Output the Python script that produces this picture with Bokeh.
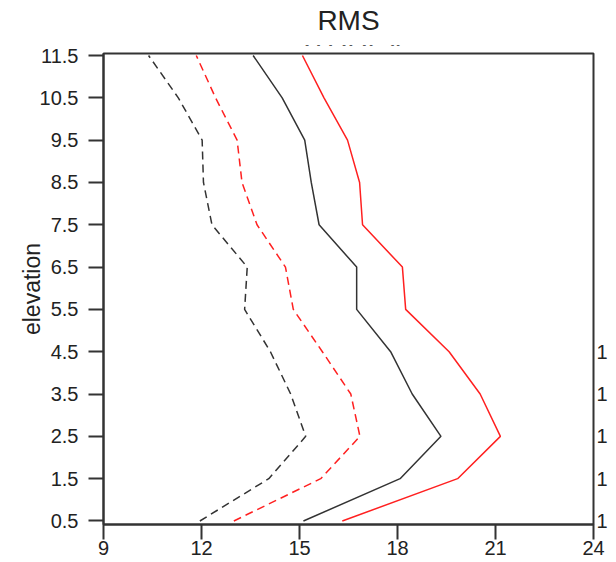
from bokeh.plotting import figure
from bokeh.models import Range1d, FixedTicker, LinearAxis, Label, Div
from bokeh.layouts import column
from bokeh.embed import file_html
from bokeh.resources import INLINE

# ---- data ----
levels = [0.5, 1.5, 2.5, 3.5, 4.5, 5.5, 6.5, 7.5, 8.5, 9.5, 10.5, 11.5]
black_dashed = [11.95, 14.06, 15.19, 14.73, 14.11, 13.32, 13.40, 12.32, 12.06, 12.02, 11.29, 10.38]
red_dashed = [12.99, 15.65, 16.85, 16.57, 15.70, 14.81, 14.57, 13.70, 13.24, 13.09, 12.43, 11.84]
black_solid = [15.12, 18.08, 19.33, 18.45, 17.79, 16.75, 16.75, 15.60, 15.36, 15.16, 14.47, 13.58]
red_solid = [16.31, 19.84, 21.15, 20.53, 19.58, 18.25, 18.15, 16.93, 16.84, 16.47, 15.75, 15.09]

x_ticks = [9, 12, 15, 18, 21, 24]
y_ticks = levels
right_ticks = [0.5, 1.5, 2.5, 3.5, 4.5]
right_labels = ["1", "1", "1", "1", "1"]

title_text = "RMS"
subtitle_text = "STDDEV"
y_label = "elevation"

FONT = "Liberation Sans"
AX = "#333333"
BLACK = "#333333"
RED = "#ff2020"
TXT = "#222222"
W = 616
LEFT = 103
RIGHT = 23
H_TITLE = 39
H_SUB = 6

# title strip
fa = figure(width=W, height=H_TITLE, output_backend="svg", toolbar_location=None,
            x_range=Range1d(0, 1), y_range=Range1d(0, H_TITLE),
            min_border_left=LEFT, min_border_right=RIGHT,
            min_border_top=0, min_border_bottom=0)
fa.axis.visible = False
fa.grid.visible = False
fa.outline_line_color = None
fa.add_layout(Label(x=0.5, y=H_TITLE - 20, text=title_text, text_align="center",
                    text_baseline="middle", text_font=FONT, text_font_size="28px",
                    text_color=TXT))

# second title: only the bottom of its letters shows (the rest is hidden)
sub_html = (
    f'<div style="position:relative;width:{W}px;height:{H_SUB}px;overflow:hidden;">'
    f'<span style="position:absolute;left:{LEFT}px;width:{W - LEFT - RIGHT}px;top:-16px;'
    f'text-align:center;font-family:\'{FONT}\';font-size:28px;line-height:28px;'
    f'color:{TXT};white-space:nowrap;">{subtitle_text}</span></div>'
)
fb = Div(text=sub_html, width=W, height=H_SUB, margin=0)

p = figure(width=W, height=562 - H_TITLE - H_SUB, output_backend="svg", toolbar_location=None,
           x_range=Range1d(9, 24), y_range=Range1d(0.417, 11.547),
           min_border_left=LEFT, min_border_right=RIGHT, min_border_top=8,
           min_border_bottom=38)
p.grid.visible = False
p.outline_line_color = AX
p.outline_line_width = 2

p.line(black_dashed, levels, line_color=BLACK, line_width=1.5, line_dash="8 5")
p.line(red_dashed, levels, line_color=RED, line_width=1.5, line_dash="8 5")
p.line(black_solid, levels, line_color=BLACK, line_width=1.5)
p.line(red_solid, levels, line_color=RED, line_width=1.5)

for ax in (p.xaxis[0], p.yaxis[0]):
    ax.axis_line_color = AX
    ax.axis_line_width = 2
    ax.major_tick_line_color = AX
    ax.major_tick_line_width = 2
    ax.major_tick_out = 15
    ax.major_tick_in = 0
    ax.minor_tick_line_color = None
    ax.major_label_text_font = FONT
    ax.major_label_text_font_size = "20px"
    ax.major_label_text_color = TXT

p.xaxis[0].ticker = FixedTicker(ticks=x_ticks)
p.xaxis[0].major_label_standoff = 1
p.yaxis[0].ticker = FixedTicker(ticks=y_ticks)
p.yaxis[0].major_label_standoff = 10
p.yaxis[0].axis_label = y_label
p.yaxis[0].axis_label_text_font = FONT
p.yaxis[0].axis_label_text_font_size = "23px"
p.yaxis[0].axis_label_text_font_style = "normal"
p.yaxis[0].axis_label_text_color = TXT
p.yaxis[0].axis_label_standoff = -8

ra = LinearAxis(ticker=FixedTicker(ticks=right_ticks),
                major_label_overrides={t: l for t, l in zip(right_ticks, right_labels)})
ra.axis_line_color = None
ra.major_tick_line_color = None
ra.minor_tick_line_color = None
ra.major_tick_out = 0
ra.major_tick_in = 0
ra.major_label_standoff = 3
ra.major_label_text_font = FONT
ra.major_label_text_font_size = "20px"
ra.major_label_text_color = TXT
p.add_layout(ra, "right")

layout = column(fa, fb, p, spacing=0)
open("out.html", "w").write(file_html(layout, INLINE))
